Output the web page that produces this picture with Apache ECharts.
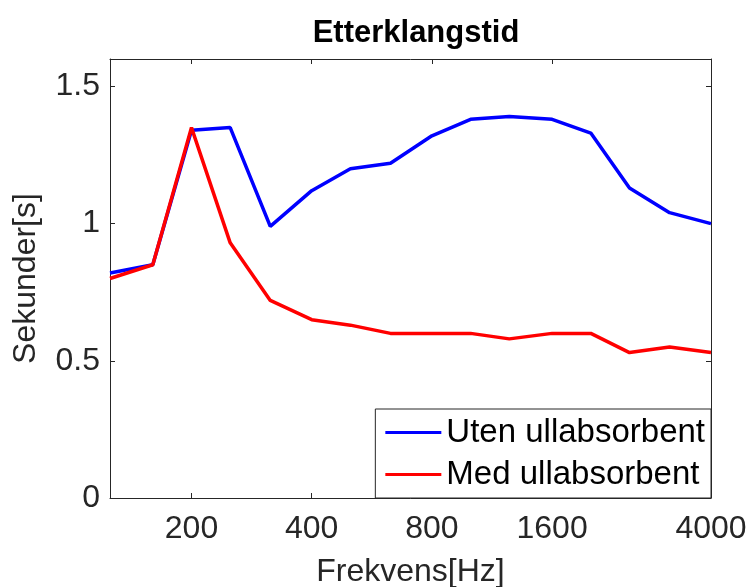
<!DOCTYPE html>
<html>
<head>
<meta charset="utf-8">
<script src="https://cdn.jsdelivr.net/npm/echarts@6/dist/echarts.min.js"></script>
<style>
html,body{margin:0;padding:0;background:#fff;}
#c{width:750px;height:587px;}
</style>
</head>
<body>
<div id="c"></div>
<script>
const frequencies = [125,160,200,250,315,400,500,630,800,1000,1250,1600,2000,2500,3150,4000];
const utenUll = [0.82,0.85,1.34,1.35,0.99,1.12,1.20,1.22,1.32,1.38,1.39,1.38,1.33,1.13,1.04,1.00];
const medUll  = [0.80,0.85,1.35,0.93,0.72,0.65,0.63,0.60,0.60,0.60,0.58,0.60,0.60,0.53,0.55,0.53];
const xTicks = [200,400,800,1600,4000];
const yTicks = [0,0.5,1,1.5];
const seriesNames = ['Uten ullabsorbent','Med ullabsorbent'];

const FONT = '"Liberation Sans", Arial, Helvetica, sans-serif';
const AX = '#262626';
const chart = echarts.init(document.getElementById('c'));

function pairs(xs, ys){ return xs.map((x,i)=>[x, ys[i]]); }

const xBase = {
  type:'log', logBase:2, min:125, max:4000,
  splitLine:{show:false}, minorTick:{show:false}
};
const yBase = {type:'value', min:0, max:1.6, splitLine:{show:false}};
const lineAx = {show:true, onZero:false, lineStyle:{color:AX, width:1}};

chart.setOption({
  animation:false,
  backgroundColor:'#fff',
  title:{
    text:'Etterklangstid', left:411, top:13, textAlign:'center',
    textStyle:{fontFamily:FONT, fontSize:31, fontWeight:'bold', color:'#000'}
  },
  grid:{left:110, right:39, top:59, bottom:89, containLabel:false, outerBoundsMode:'none'},
  legend:{
    orient:'vertical', right:39, bottom:89,
    data:seriesNames, icon:'rect',
    backgroundColor:'#fff', borderColor:AX, borderWidth:1,
    padding:[7,6,7,10], itemGap:9, itemWidth:56, itemHeight:3,
    textStyle:{fontFamily:FONT, fontSize:33, color:'#000'}
  },
  xAxis:[
    Object.assign({}, xBase, {
      position:'bottom',
      name:'Frekvens[Hz]', nameLocation:'middle', nameGap:58,
      nameTextStyle:{fontFamily:FONT, fontSize:32, color:AX},
      axisLine:lineAx,
      axisTick:{show:true, inside:true, length:5, customValues:xTicks, lineStyle:{color:AX}},
      axisLabel:{show:true, customValues:xTicks, margin:15, fontFamily:FONT, fontSize:32, color:AX,
                 formatter:v=>String(Math.round(v))}
    }),
    Object.assign({}, xBase, {
      position:'top',
      axisLine:lineAx,
      axisTick:{show:true, inside:true, length:5, customValues:xTicks, lineStyle:{color:AX}},
      axisLabel:{show:false}
    })
  ],
  yAxis:[
    Object.assign({}, yBase, {
      position:'left',
      name:'Sekunder[s]', nameLocation:'middle', nameGap:68,
      nameTextStyle:{fontFamily:FONT, fontSize:32, color:AX},
      axisLine:lineAx,
      axisTick:{show:true, inside:true, length:5, customValues:yTicks, lineStyle:{color:AX}},
      axisLabel:{show:true, customValues:yTicks, margin:10, fontFamily:FONT, fontSize:32, color:AX}
    }),
    Object.assign({}, yBase, {
      position:'right',
      axisLine:lineAx,
      axisTick:{show:true, inside:true, length:5, customValues:yTicks, lineStyle:{color:AX}},
      axisLabel:{show:false}
    })
  ],
  series:[
    {name:seriesNames[0], type:'line', xAxisIndex:0, yAxisIndex:0, data:pairs(frequencies, utenUll),
     symbol:'none', lineStyle:{color:'#0000ff', width:3.5}, itemStyle:{color:'#0000ff'}},
    {name:seriesNames[1], type:'line', xAxisIndex:0, yAxisIndex:0, data:pairs(frequencies, medUll),
     symbol:'none', lineStyle:{color:'#ff0000', width:3.5}, itemStyle:{color:'#ff0000'}}
  ]
});
</script>
</body>
</html>
